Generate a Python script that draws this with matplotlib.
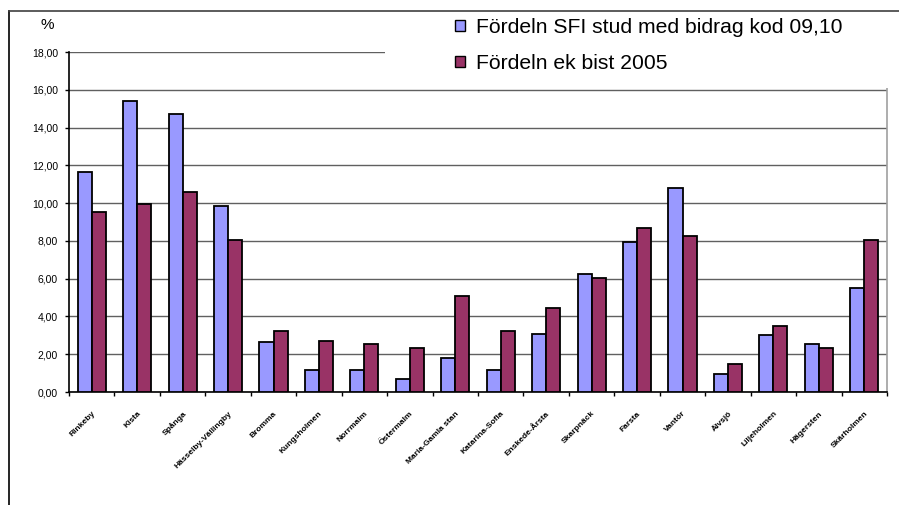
import matplotlib
matplotlib.use('Agg')
import matplotlib.pyplot as plt
import numpy as np
from matplotlib.patches import Rectangle
from matplotlib.lines import Line2D

plt.rcParams['font.family'] = ['Liberation Sans', 'DejaVu Sans']

# stadsdelar (labels are barely readable in the original)
omraden = ['Rinkeby', 'Kista', 'Spånga', 'Hässelby-Vällingby', 'Bromma',
           'Kungsholmen', 'Norrmalm', 'Östermalm', 'Maria-Gamla stan',
           'Katarina-Sofia', 'Enskede-Årsta', 'Skarpnäck', 'Farsta', 'Vantör',
           'Älvsjö', 'Liljeholmen', 'Hägersten', 'Skärholmen']
sfi_stud = [11.67, 15.38, 14.74, 9.85, 2.66, 1.17, 1.17, 0.67, 1.82,
            1.17, 3.08, 6.25, 7.96, 10.82, 0.97, 3.00, 2.56, 5.53]
ek_bist = [9.55, 9.97, 10.61, 8.03, 3.21, 2.68, 2.56, 2.35, 5.10,
           3.21, 4.47, 6.05, 8.70, 8.28, 1.50, 3.51, 2.35, 8.03]
serie_namn = ['Fördeln SFI stud med bidrag kod 09,10', 'Fördeln ek bist 2005']
yticks = [0, 2, 4, 6, 8, 10, 12, 14, 16, 18]

W, H = 899, 505
fig = plt.figure(figsize=(W / 100, H / 100), dpi=100)
ax = fig.add_axes([69 / W, 1 - 392 / H, (887 - 69) / W, (392 - 52) / H])

x = np.arange(len(omraden))
bw = 0.31
ax.bar(x - bw / 2, sfi_stud, bw, color='#9999FF', edgecolor='black', linewidth=1.3, zorder=3)
ax.bar(x + bw / 2, ek_bist, bw, color='#993366', edgecolor='black', linewidth=1.3, zorder=3)

ax.set_xlim(-0.5, len(omraden) - 0.5)
ax.set_ylim(0, 18)
ax.set_yticks(yticks)
ax.set_yticklabels([f'{v:.2f}'.replace('.', ',') for v in yticks], fontsize=7.5)
ax.tick_params(axis='y', length=3, width=1, direction='out', pad=5)
ax.yaxis.grid(True, color='#606060', linewidth=1)
ax.set_axisbelow(True)

# ticks between the groups, labels in the middle
ax.set_xticks(x)
ax.set_xticklabels(omraden, rotation=45, ha='right', rotation_mode='anchor',
                   fontsize=6, fontweight='bold')
ax.set_xticks(np.arange(-0.5, len(omraden)), minor=True)
ax.tick_params(axis='x', which='major', length=0, pad=13)
ax.tick_params(axis='x', which='minor', length=3, width=1, direction='out')

for s in ['left', 'bottom']:
    ax.spines[s].set_color('black')
    ax.spines[s].set_linewidth(1.2)
ax.spines['top'].set_visible(False)
ax.spines['right'].set_color('#a0a0a0')
ax.spines['right'].set_linewidth(1.2)

fig.text(47 / W, 1 - 25 / H, '%', fontsize=11, ha='center', va='center')

# outer frame (left and top only, like the original)
fig.add_artist(Line2D([9 / W, 9 / W], [0, 1 - 11 / H], color='black', linewidth=1.2))
fig.add_artist(Line2D([9 / W, 1], [1 - 11 / H, 1 - 11 / H], color='#404040', linewidth=1.2))

# white legend area covering the top gridline
fig.add_artist(Rectangle((385 / W, 1 - 88 / H), (W - 385) / W, 76 / H,
                         transform=fig.transFigure, facecolor='white',
                         edgecolor='none', zorder=2))

handles = [Rectangle((0, 0), 1, 1, facecolor=c, edgecolor='black', linewidth=1)
           for c in ['#9999FF', '#993366']]
leg = fig.legend(handles, serie_namn, loc='upper left',
                 bbox_to_anchor=(455 / W, 1 - 18 / H), frameon=False,
                 fontsize=15.2, handlelength=0.45, handleheight=0.45,
                 handletextpad=0.55, labelspacing=0.82, borderpad=0,
                 borderaxespad=0)
leg.set_zorder(3)

fig.savefig('out.png', dpi=100)
